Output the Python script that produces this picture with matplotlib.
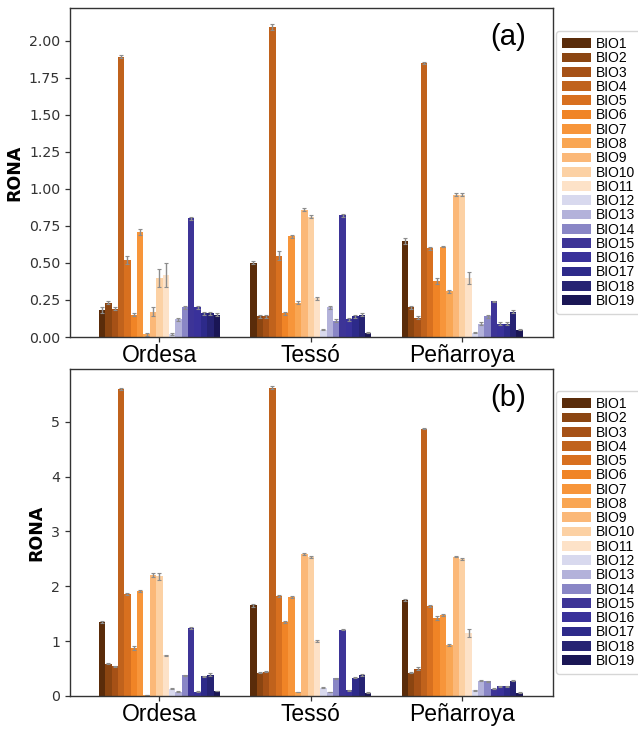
import matplotlib
matplotlib.use('Agg')
import matplotlib.pyplot as plt
import numpy as np

sites = ['Ordesa', 'Tessó', 'Peñarroya']
bio_labels = ['BIO1', 'BIO2', 'BIO3', 'BIO4', 'BIO5', 'BIO6', 'BIO7', 'BIO8', 'BIO9', 'BIO10',
              'BIO11', 'BIO12', 'BIO13', 'BIO14', 'BIO15', 'BIO16', 'BIO17', 'BIO18', 'BIO19']
bio_colors = ['#5a2c0a', '#8b4511', '#a65116', '#c0621c', '#d8701f', '#f08426', '#f7953a',
              '#f9a653', '#fbb878', '#fcd1a4', '#fde2c8', '#d8d9ee', '#b3b2da', '#8986c6',
              '#3d3497', '#39319a', '#2d2a8a', '#262373', '#1a1655']

# Panel (a) values per site (BIO1..BIO19)
ordesa_a = [0.18, 0.23, 0.19, 1.89, 0.52, 0.15, 0.71, 0.02, 0.17, 0.40, 0.42, 0.02, 0.12, 0.20, 0.80, 0.20, 0.16, 0.16, 0.15]
tesso_a = [0.50, 0.14, 0.14, 2.09, 0.55, 0.16, 0.68, 0.23, 0.86, 0.81, 0.26, 0.05, 0.20, 0.11, 0.82, 0.12, 0.14, 0.15, 0.03]
penarroya_a = [0.65, 0.20, 0.13, 1.85, 0.60, 0.38, 0.61, 0.31, 0.96, 0.96, 0.40, 0.03, 0.09, 0.14, 0.24, 0.09, 0.09, 0.17, 0.05]
ordesa_a_err = [0.02, 0.01, 0.01, 0.01, 0.03, 0.01, 0.02, 0.01, 0.03, 0.06, 0.08, 0.005, 0.01, 0.01, 0.01, 0.01, 0.01, 0.01, 0.01]
tesso_a_err = [0.01, 0.01, 0.01, 0.02, 0.03, 0.01, 0.01, 0.01, 0.01, 0.01, 0.01, 0.005, 0.01, 0.01, 0.01, 0.01, 0.01, 0.01, 0.005]
penarroya_a_err = [0.02, 0.01, 0.01, 0.005, 0.01, 0.02, 0.005, 0.01, 0.01, 0.01, 0.04, 0.005, 0.01, 0.01, 0.005, 0.01, 0.01, 0.01, 0.005]

# Panel (b) values per site (BIO1..BIO19)
ordesa_b = [1.35, 0.59, 0.54, 5.59, 1.86, 0.87, 1.92, 0.02, 2.21, 2.18, 0.74, 0.13, 0.08, 0.38, 1.24, 0.08, 0.36, 0.39, 0.09]
tesso_b = [1.65, 0.42, 0.44, 5.62, 1.82, 1.35, 1.80, 0.07, 2.59, 2.53, 1.00, 0.15, 0.07, 0.32, 1.21, 0.10, 0.33, 0.38, 0.06]
penarroya_b = [1.75, 0.42, 0.50, 4.87, 1.64, 1.42, 1.47, 0.93, 2.54, 2.50, 1.15, 0.10, 0.28, 0.27, 0.13, 0.18, 0.18, 0.28, 0.06]
ordesa_b_err = [0.02, 0.01, 0.01, 0.02, 0.02, 0.04, 0.02, 0.005, 0.04, 0.06, 0.01, 0.01, 0.01, 0.01, 0.01, 0.005, 0.01, 0.02, 0.005]
tesso_b_err = [0.02, 0.01, 0.01, 0.03, 0.02, 0.02, 0.02, 0.005, 0.02, 0.02, 0.02, 0.01, 0.005, 0.01, 0.01, 0.005, 0.01, 0.02, 0.005]
penarroya_b_err = [0.02, 0.01, 0.02, 0.01, 0.01, 0.03, 0.02, 0.01, 0.01, 0.02, 0.08, 0.01, 0.01, 0.01, 0.01, 0.01, 0.01, 0.01, 0.005]

panels = [
    ('(a)', [ordesa_a, tesso_a, penarroya_a], [ordesa_a_err, tesso_a_err, penarroya_a_err], (0, 2.22),
     [0, 0.25, 0.5, 0.75, 1.0, 1.25, 1.5, 1.75, 2.0], '{:.2f}'),
    ('(b)', [ordesa_b, tesso_b, penarroya_b], [ordesa_b_err, tesso_b_err, penarroya_b_err], (0, 5.96),
     [0, 1, 2, 3, 4, 5], '{:d}'),
]

fig = plt.figure(figsize=(6.38, 7.29), dpi=100)
axes = [fig.add_axes([0.1097, 0.5377, 0.7571, 0.4513]),
        fig.add_axes([0.1097, 0.0453, 0.7571, 0.4485])]

n = len(bio_labels)
width = 0.8 / n
x = np.arange(len(sites))

for ax, (tag, data, errs, ylim, yticks, fmt) in zip(axes, panels):
    for i in range(n):
        vals = [d[i] for d in data]
        ers = [e[i] for e in errs]
        ax.bar(x + (i - (n - 1) / 2) * width, vals, width, color=bio_colors[i],
               label=bio_labels[i], linewidth=0,
               yerr=ers, error_kw=dict(ecolor='#8c8c8c', elinewidth=1.0, capsize=1.2, capthick=0.8))
    ax.set_xlim(-0.59, 2.6)
    ax.set_ylim(*ylim)
    ax.set_xticks(x)
    ax.set_xticklabels(sites, fontsize=16.5, family='Liberation Sans', color='black')
    ax.set_yticks(yticks)
    ax.set_yticklabels([fmt.format(t) if fmt == '{:.2f}' else str(t) for t in yticks],
                       fontsize=10.2, color='#333333')
    ax.tick_params(axis='x', length=3.5, width=0.9, pad=1.5, colors='#333333', labelcolor='black')
    ax.tick_params(axis='y', length=3.5, width=0.9, colors='#333333')
    for s in ax.spines.values():
        s.set_color('#333333')
        s.set_linewidth(1.0)
    ax.set_ylabel('RONA', fontsize=12.5, fontweight='bold', color='black', labelpad=4)
    ax.text(0.945, 0.955, tag, transform=ax.transAxes, ha='right', va='top',
            fontsize=21, family='Liberation Sans')
    leg = ax.legend(loc='center left', bbox_to_anchor=(1.0, 0.5), borderaxespad=0.25,
                    prop={'family': 'Liberation Sans', 'size': 10},
                    labelspacing=0.02, handlelength=2.1, handleheight=0.7,
                    handletextpad=0.35, borderpad=0.4, frameon=True)
    leg.get_frame().set_edgecolor('#cccccc')

fig.savefig('out.png', dpi=100)
